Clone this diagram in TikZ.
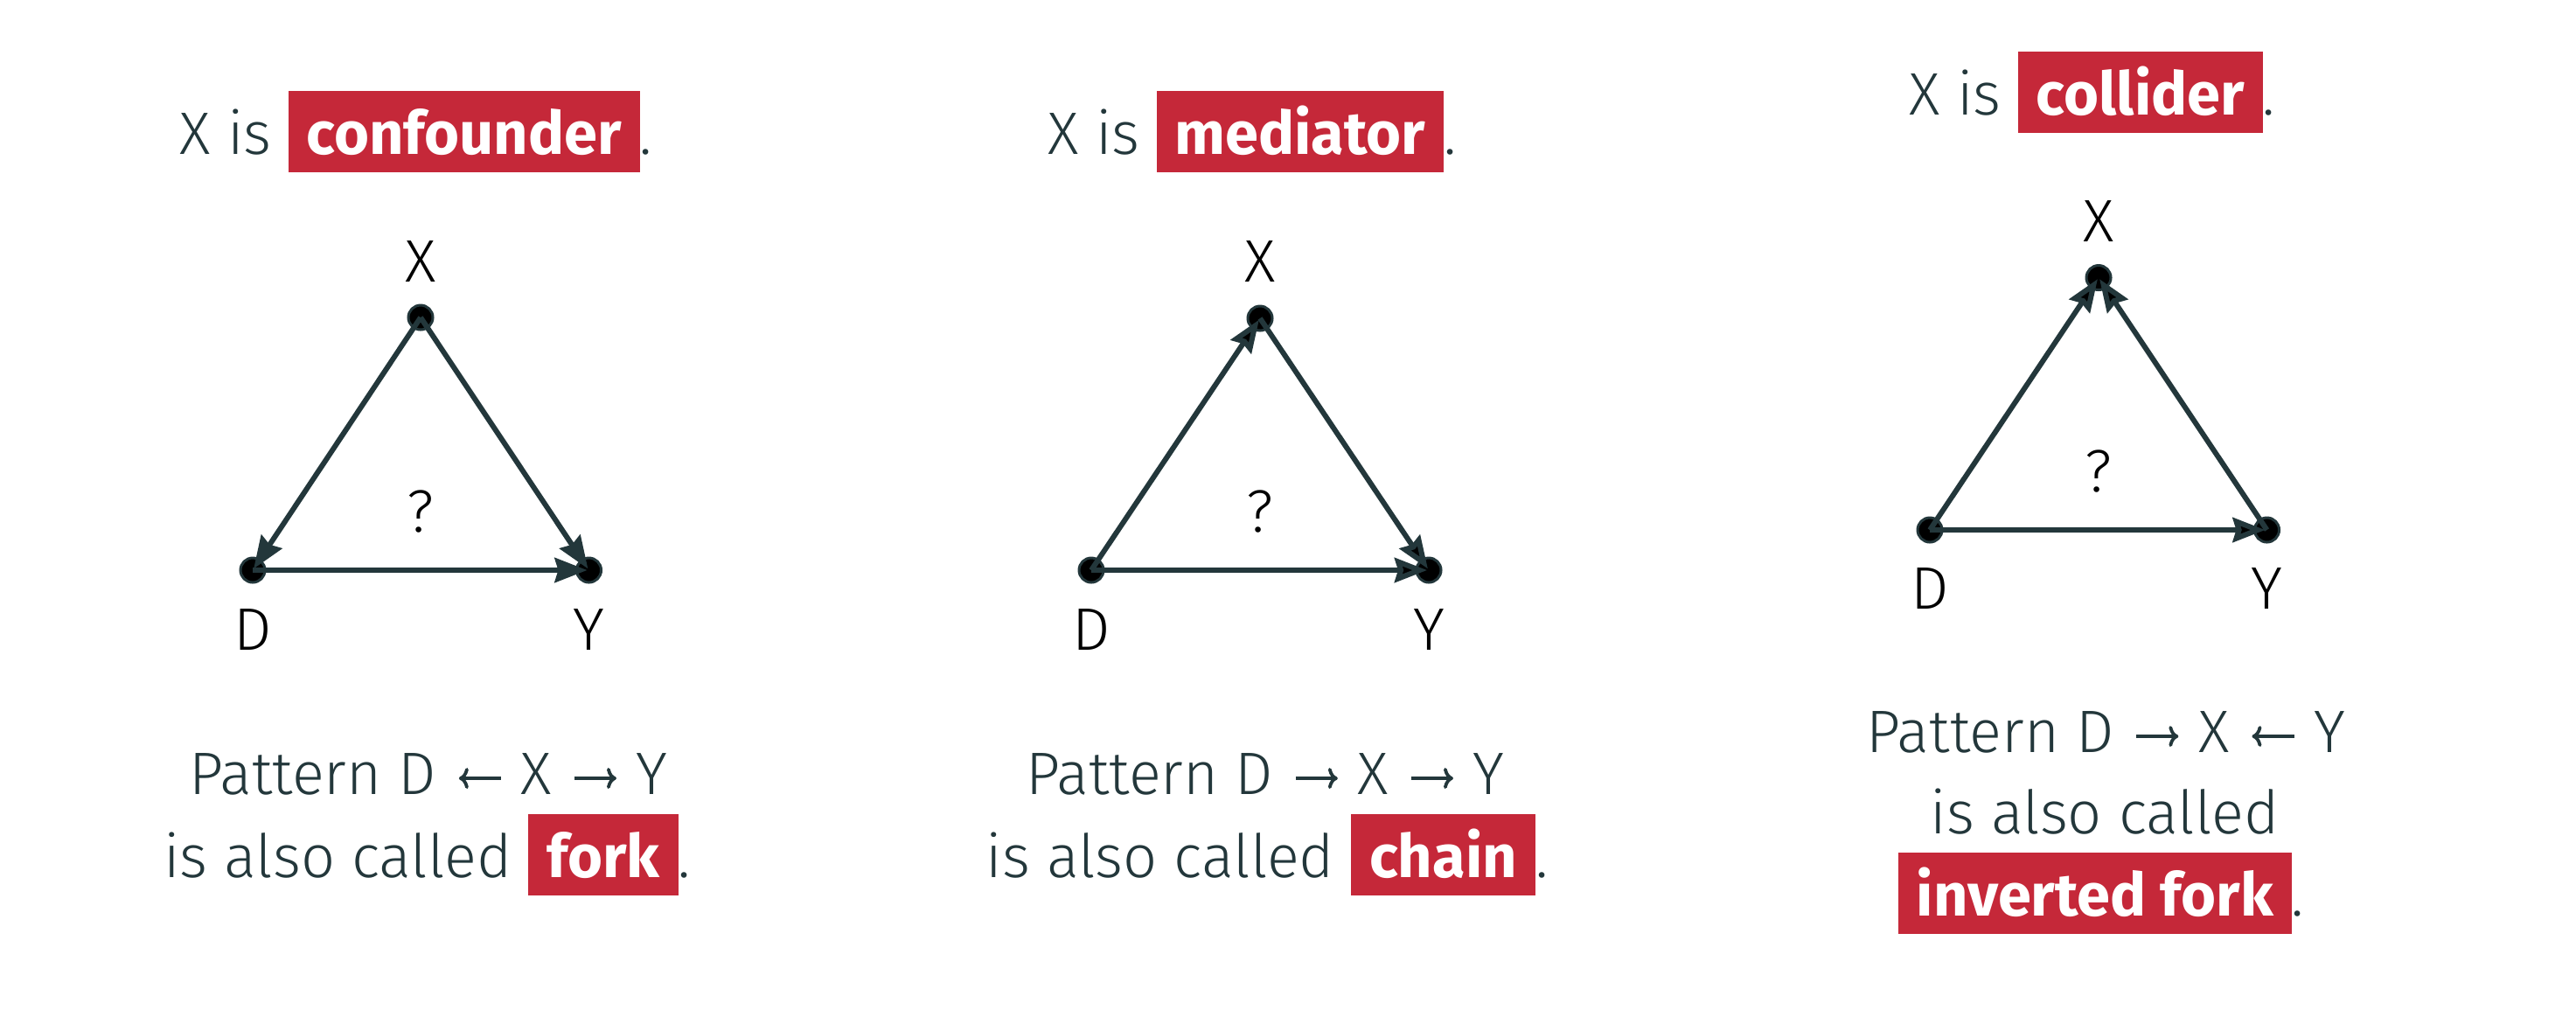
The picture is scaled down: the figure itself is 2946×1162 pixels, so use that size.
\documentclass[tikz,border=0pt]{standalone}
\usepackage{fontspec}
\setmainfont{Fira Sans}[UprightFont={* Light},BoldFont={* Bold}]
\usetikzlibrary{arrows.meta}
\definecolor{slate}{HTML}{23373B}
\definecolor{alertred}{HTML}{C52839}
\newcommand\hlword[1]{{\setlength{\fboxsep}{0pt}\colorbox{alertred}{\rule[-0.21cm]{0pt}{0.93cm}\hspace{0.21cm}\textcolor{white}{\bfseries #1}\hspace{0.21cm}}}}
\newcommand\myrarr{\hspace{0.24cm}\tikz[baseline={(0cm,-0.18cm)}]\draw[slate,line width=0.038cm,-{To[length=0.11cm,width=0.24cm]}] (0cm,0cm) -- (0.48cm,0cm);\hspace{0.21cm}}
\newcommand\mylarr{\hspace{0.24cm}\tikz[baseline={(0cm,-0.18cm)}]\draw[slate,line width=0.038cm,{To[length=0.11cm,width=0.24cm]}-] (0cm,0cm) -- (0.48cm,0cm);\hspace{0.21cm}}
\begin{document}
\begin{tikzpicture}[x=0.01cm,y=-0.01cm,
  txt/.style={anchor=base,inner sep=0pt,text=slate,font=\fontsize{19.5}{23}\selectfont},
  lbl/.style={inner sep=0pt,text=black,font=\fontsize{19.5}{23}\selectfont},
  vdot/.style={circle,fill=black,draw=slate,line width=0.03cm,minimum size=0.28cm,inner sep=0pt},
  edge/.style={draw=slate,line width=0.06cm,shorten >=0.02cm,-{Stealth[length=0.37cm,width=0.28cm,inset=0.04cm]}}]
\useasboundingbox (0,0) rectangle (2946,1162);

% ---------- panel 1: confounder ----------
\node[txt] (t1) at (476,176) {X is \hlword{confounder}.};
\node[vdot] (x1) at (481,363) {};
\node[vdot] (d1) at (289,652) {};
\node[vdot] (y1) at (673.5,652) {};
\node[lbl] (lx1) at (481,299) {X};
\node[lbl] (ld1) at (289,720) {D};
\node[lbl] (ly1) at (673.5,720) {Y};
\node[lbl] (q1) at (481,585) {?};
\draw[edge] (x1.center) -- (d1.center);
\draw[edge] (x1.center) -- (y1.center);
\draw[edge] (d1.center) -- (y1.center);
\node[txt] (p1a) at (490,908) {Pattern D\mylarr X\myrarr Y};
\node[txt] (p1b) at (488.5,1003) {is also called \hlword{fork}.};

% ---------- panel 2: mediator ----------
\node[txt] (t2) at (1432,176) {X is \hlword{mediator}.};
\node[vdot] (x2) at (1441,364) {};
\node[vdot] (d2) at (1248,652) {};
\node[vdot] (y2) at (1634,652) {};
\node[lbl] (lx2) at (1441,299) {X};
\node[lbl] (ld2) at (1248,720) {D};
\node[lbl] (ly2) at (1634,720) {Y};
\node[lbl] (q2) at (1441,585) {?};
\draw[edge] (d2.center) -- (x2.center);
\draw[edge] (x2.center) -- (y2.center);
\draw[edge] (d2.center) -- (y2.center);
\node[txt] (p2a) at (1447,908) {Pattern D\myrarr X\myrarr Y};
\node[txt] (p2b) at (1449,1003) {is also called \hlword{chain}.};

% ---------- panel 3: collider ----------
\node[txt] (t3) at (2393,131) {X is \hlword{collider}.};
\node[vdot] (x3) at (2400,317.5) {};
\node[vdot] (d3) at (2207,606) {};
\node[vdot] (y3) at (2592.5,606) {};
\node[lbl] (lx3) at (2400,252.5) {X};
\node[lbl] (ld3) at (2207,673) {D};
\node[lbl] (ly3) at (2592.5,673) {Y};
\node[lbl] (q3) at (2400,539) {?};
\draw[edge] (d3.center) -- (x3.center);
\draw[edge] (y3.center) -- (x3.center);
\draw[edge] (d3.center) -- (y3.center);
\node[txt] (p3a) at (2408.5,860) {Pattern D\myrarr X\mylarr Y};
\node[txt] (p3b) at (2407,953) {is also called};
\node[txt] (p3c) at (2403,1047) {\hlword{inverted fork}.};
\end{tikzpicture}
\end{document}
